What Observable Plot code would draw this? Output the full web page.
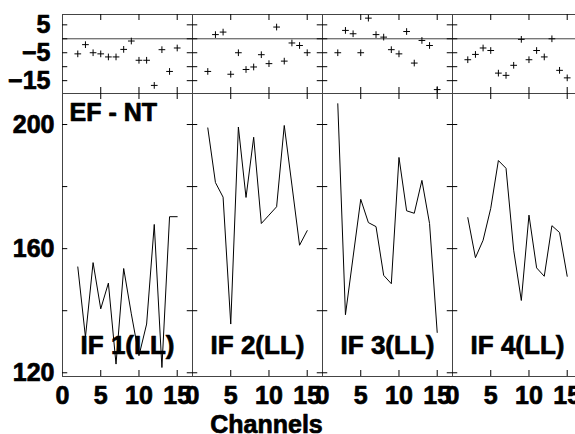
<!DOCTYPE html>
<html><head><meta charset="utf-8">
<script src="https://cdn.jsdelivr.net/npm/d3@7"></script>
<script src="https://cdn.jsdelivr.net/npm/@observablehq/plot@0.6"></script>
<style>
html,body{margin:0;padding:0;overflow:hidden;background:#fff;}
#wrap{position:relative;width:575px;height:434px;overflow:hidden;}
#top{position:absolute;left:0;top:0;width:584px;}
#bot{position:absolute;left:0;top:92px;width:584px;}
svg text{stroke:#000;stroke-width:0.7px;paint-order:stroke;stroke-linejoin:round;}
</style></head><body><div id="wrap"><div id="top"></div><div id="bot"></div></div>
<script>
const panels = ["IF 1(LL)", "IF 2(LL)", "IF 3(LL)", "IF 4(LL)"];
const channels = [2, 3, 4, 5, 6, 7, 8, 9, 10, 11, 12, 13, 14, 15];

const if1Amp = [154.1, 131.5, 155.5, 140.6, 148.9, 122.8, 153.6, 139.0, 125.5, 135.7, 167.8, 121.7, 170.3, 170.3];
const if2Amp = [198.9, 181.3, 176.6, 135.7, 199.2, 176.5, 195.9, 168.1, 170.8, 173.5, 199.7, 180.5, 161.1, 165.8];
const if3Amp = [206.7, 138.7, 157.3, 175.9, 168.4, 167.1, 151.4, 148.7, 189.4, 172.2, 171.4, 182.0, 168.1, 133.0];
const if4Amp = [170.0, 157.1, 162.7, 173.0, 188.4, 185.9, 159.5, 143.3, 170.8, 153.8, 151.1, 167.4, 165.2, 151.1];

const if1Resid = [-5.4, -2.1, -5.0, -5.4, -6.5, -6.5, -3.8, -0.8, -7.7, -7.7, -16.7, -3.9, -11.7, -3.3];
const if2Resid = [-11.7, 1.5, 2.4, -12.7, -5.0, -11.0, -10.1, -5.7, -8.9, 4.2, -8.0, -1.5, -2.4, -5.0];
const if3Resid = [-5.0, 3.0, 1.8, -5.0, 7.4, 1.5, 0.6, -3.9, -5.4, 2.6, -8.7, -0.6, -2.4, -18.2];
const if4Resid = [-7.5, -5.6, -3.3, -4.2, -12.3, -13.1, -9.5, -0.2, -7.5, -4.2, -6.5, 0.0, -11.3, -14.0];

const xTicks = [0, 5, 10, 15];
const xInnerTicks = [5, 10, 15];
const ampTicks = [120, 140, 160, 180, 200];
const ampLabels = [120, 160, 200];
const residTicks = [-15, -10, -5, 0, 5];
const residLabels = [-15, -5, 5];
const panelTitle = "EF - NT";
const xLabel = "Channels";

const ampSeries = [if1Amp, if2Amp, if3Amp, if4Amp];
const residSeries = [if1Resid, if2Resid, if3Resid, if4Resid];
const rows = [];
panels.forEach((p, i) => channels.forEach((c, j) => rows.push({panel: p, channel: c, amp: ampSeries[i][j], resid: residSeries[i][j]})));

const W = 584, ML = 60, MR = 1;
const bw = (W - ML - MR) / panels.length;
const tk = 6;
const font = {fontFamily: "'Liberation Sans', Arial, sans-serif", fontSize: "25px", fontWeight: "bold", maxWidth: "none", overflow: "visible", background: "transparent"};
const frameColor = "#444";

function tickMarks(xt, yt, h) {
  return [
    Plot.tickX(xt, {x: d => d, insetBottom: h - tk, stroke: "black"}),
    Plot.tickX(xt, {x: d => d, insetTop: h - tk, stroke: "black"}),
    Plot.tickY(yt, {y: d => d, insetRight: bw - tk, stroke: "black"}),
    Plot.tickY(yt, {y: d => d, insetLeft: bw - tk, stroke: "black"})
  ];
}

const topH = 94, topMT = 14, topMB = 1;
const topPlot = Plot.plot({
  width: W, height: topH, marginLeft: ML, marginRight: MR, marginTop: topMT, marginBottom: topMB,
  style: font,
  fx: {domain: panels, padding: 0, axis: null, label: null},
  x: {domain: [0, 17], axis: null, label: null},
  y: {domain: [-19.6, 8.7], label: null},
  marks: [
    Plot.frame({stroke: frameColor}),
    Plot.ruleY([0], {stroke: frameColor}),
    ...tickMarks(xInnerTicks, residTicks, topH - topMT - topMB),
    Plot.dot(rows, {fx: "panel", x: "channel", y: "resid", symbol: "plus", r: 2.3, stroke: "black", strokeWidth: 1}),
    Plot.axisY(residLabels, {tickSize: 0, tickPadding: 12, label: null, fontSize: 25, fontWeight: "bold"})
  ]
});
document.getElementById("top").appendChild(topPlot);

const botH = 342, botMT = 1, botMB = 58;
const botPlot = Plot.plot({
  width: W, height: botH, marginLeft: ML, marginRight: MR, marginTop: botMT, marginBottom: botMB,
  style: font,
  fx: {domain: panels, padding: 0, axis: null, label: null},
  x: {domain: [0, 17], label: null},
  y: {domain: [118.8, 210], label: null},
  marks: [
    Plot.frame({stroke: frameColor}),
    ...tickMarks(xInnerTicks, ampTicks, botH - botMT - botMB),
    Plot.lineY(rows, {fx: "panel", x: "channel", y: "amp", stroke: "black", strokeWidth: 1}),
    Plot.text(panels, {fx: d => d, text: d => d, frameAnchor: "bottom", dy: -23, lineAnchor: "bottom", fontSize: 26, fontWeight: "bold", fill: "black"}),
    Plot.text([panelTitle], {fx: () => panels[0], text: d => d, frameAnchor: "top-left", dx: 7, dy: 10, lineAnchor: "top", textAnchor: "start", fontSize: 25, fontWeight: "bold", fill: "black"}),
    Plot.text([xLabel], {fx: () => panels[1], text: d => d, frameAnchor: "bottom", dx: 9, dy: 56, lineAnchor: "bottom", fontSize: 25, fontWeight: "bold", fill: "black"}),
    Plot.axisY(ampLabels, {tickSize: 0, tickPadding: 8, label: null, fontSize: 25, fontWeight: "bold"}),
    Plot.axisX(xTicks, {tickSize: 0, tickPadding: 10, label: null, fontSize: 25, fontWeight: "bold"})
  ]
});
document.getElementById("bot").appendChild(botPlot);
</script>
</body></html>
